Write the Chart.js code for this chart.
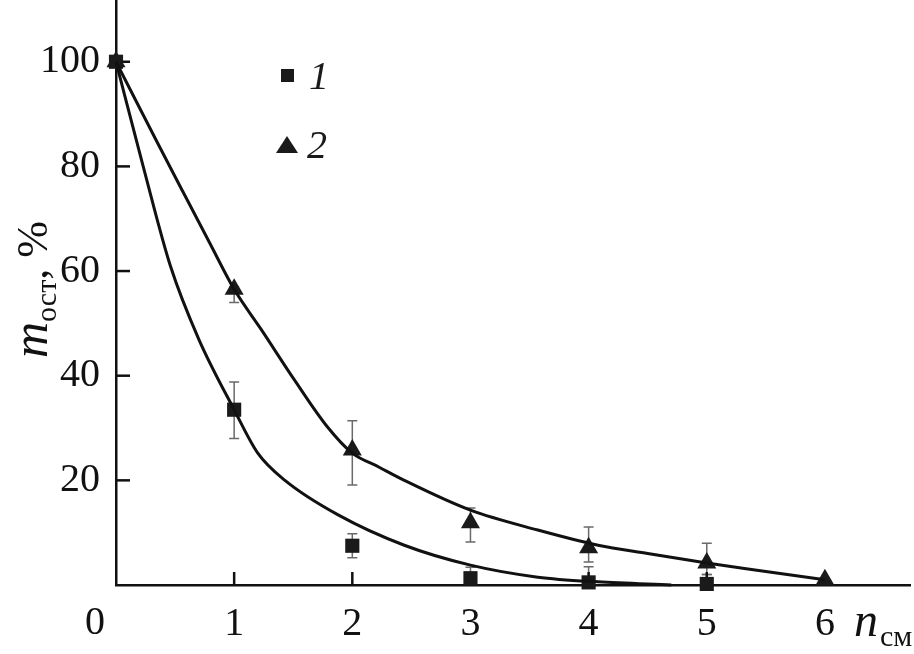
<!DOCTYPE html>
<html>
<head>
<meta charset="utf-8">
<script src="https://cdn.jsdelivr.net/npm/chart.js@4"></script>
<style>
  html, body { margin: 0; padding: 0; background: #fff; }
  #wrap { width: 914px; height: 654px; }
</style>
</head>
<body>
<div id="wrap"><canvas id="chart"></canvas></div>
<script>
// --- data ---
const nValues = [0, 1, 2, 3, 4, 5];
const nValues2 = [0, 1, 2, 3, 4, 5, 6];
const series1 = [100, 33.5, 7.5, 1.3, 0.5, 0.2];
const series2 = [100, 56.5, 25.8, 11.9, 7.1, 4.2, 1.0];
const err1Low = [null, 28, 5.2, 0.5, 0, 0];
const err1High = [null, 38.8, 9.8, 3.4, 3.5, 2.0];
const err2Low = [null, 54, 19.1, 8.2, 4.4, 2.0, null];
const err2High = [null, 57, 31.4, 14.7, 11.1, 8.0, null];

// fitted curves (traced)
const fit1X = [0, 0.23, 0.46, 0.7, 1, 1.2, 1.43, 1.88, 2.44, 3, 3.57, 4.08, 4.7];
const fit1Y = [100, 80, 61, 47, 33.5, 25.2, 20, 13.4, 7.6, 3.8, 1.5, 0.6, 0];
const fit2X = [0, 0.34, 0.57, 0.79, 1, 1.23, 1.51, 1.79, 2, 2.22, 2.44, 3, 3.57, 4.08, 4.5, 5, 5.5, 6];
const fit2Y = [100, 85, 75, 65.5, 56.5, 48.8, 39.2, 30.2, 25.2, 22.6, 20, 14.3, 10.5, 7.6, 6.0, 4.2, 2.6, 1.0];

const seriesNames = ['1', '2'];
const xTicks = [1, 2, 3, 4, 5, 6];
const yTicks = [20, 40, 60, 80, 100];

const SERIF = '"Liberation Serif", "DejaVu Serif", serif';

function pts(xs, ys) {
    return xs.map((x, i) => ({ x: x, y: ys[i] }));
}

// error bars + inside ticks + text decorations
const decor = {
    id: 'decor',
    beforeDatasetsDraw(chart) {
        const ctx = chart.ctx;
        const xs = chart.scales.x, ys = chart.scales.y;
        ctx.save();
        ctx.strokeStyle = '#6a6a6a';
        ctx.lineWidth = 1.5;
        const bars = [[nValues, err1Low, err1High], [nValues2, err2Low, err2High]];
        bars.forEach(([xv, lo, hi]) => {
            xv.forEach((x, i) => {
                if (lo[i] == null) return;
                const px = xs.getPixelForValue(x);
                const y1 = ys.getPixelForValue(lo[i]);
                const y2 = ys.getPixelForValue(hi[i]);
                ctx.beginPath();
                ctx.moveTo(px, y1); ctx.lineTo(px, y2);
                ctx.moveTo(px - 5, y1); ctx.lineTo(px + 5, y1);
                ctx.moveTo(px - 5, y2); ctx.lineTo(px + 5, y2);
                ctx.stroke();
            });
        });
        // inside tick marks
        ctx.strokeStyle = '#111';
        ctx.lineWidth = 2.5;
        const left = chart.chartArea.left, bottom = chart.chartArea.bottom;
        yTicks.forEach(v => {
            const py = ys.getPixelForValue(v);
            ctx.beginPath(); ctx.moveTo(left, py); ctx.lineTo(left + 14, py); ctx.stroke();
        });
        xTicks.forEach(v => {
            const px = xs.getPixelForValue(v);
            ctx.beginPath(); ctx.moveTo(px, bottom); ctx.lineTo(px, bottom - 13); ctx.stroke();
        });
        ctx.restore();
    },
    afterDraw(chart) {
        const ctx = chart.ctx;
        const xs = chart.scales.x;
        ctx.save();
        ctx.fillStyle = '#111';
        ctx.textBaseline = 'alphabetic';

        // origin label
        ctx.font = '40px ' + SERIF;
        ctx.textAlign = 'center';
        ctx.fillText('0', xs.getPixelForValue(0) - 21, 634);

        // x title: n_см
        ctx.textAlign = 'left';
        ctx.font = 'italic 48px ' + SERIF;
        ctx.fillText('n', 854, 636);
        ctx.font = '30px ' + SERIF;
        ctx.fillText('см', 880, 646);

        // y title: m_ост, %
        ctx.translate(47, 358);
        ctx.rotate(-Math.PI / 2);
        ctx.font = 'italic 50px ' + SERIF;
        ctx.fillText('m', 0, 0);
        let w = ctx.measureText('m').width;
        ctx.font = '30px ' + SERIF;
        ctx.fillText('ост', w, 9);
        w += ctx.measureText('ост').width;
        ctx.font = '44px ' + SERIF;
        ctx.fillText(', %', w, 0);
        ctx.restore();

        // legend
        ctx.save();
        ctx.fillStyle = '#1a1a1a';
        ctx.fillRect(281, 69, 13, 13);
        ctx.beginPath();
        ctx.moveTo(287, 136); ctx.lineTo(298, 153); ctx.lineTo(276, 153); ctx.closePath();
        ctx.fill();
        ctx.font = 'italic 40px ' + SERIF;
        ctx.textAlign = 'left';
        ctx.fillText(seriesNames[0], 309, 89);
        ctx.fillText(seriesNames[1], 307, 158);
        ctx.restore();
    }
};

const ctx = document.getElementById('chart').getContext('2d');
new Chart(ctx, {
    type: 'scatter',
    data: {
        datasets: [
            {
                label: 'fit 1',
                data: pts(fit1X, fit1Y),
                showLine: true,
                borderColor: '#111',
                borderWidth: 3,
                pointRadius: 0,
                cubicInterpolationMode: 'monotone',
                clip: false
            },
            {
                label: 'fit 2',
                data: pts(fit2X, fit2Y),
                showLine: true,
                borderColor: '#111',
                borderWidth: 3,
                pointRadius: 0,
                cubicInterpolationMode: 'monotone',
                clip: false
            },
            {
                label: seriesNames[0],
                data: pts(nValues, series1),
                pointStyle: 'rect',
                pointRadius: 10,
                backgroundColor: '#1a1a1a',
                borderColor: '#1a1a1a',
                borderWidth: 0,
                clip: false
            },
            {
                label: seriesNames[1],
                data: pts(nValues2, series2),
                pointStyle: 'triangle',
                pointRadius: 11,
                backgroundColor: '#1a1a1a',
                borderColor: '#1a1a1a',
                borderWidth: 0,
                clip: false
            }
        ]
    },
    options: {
        responsive: true,
        maintainAspectRatio: false,
        animation: false,
        layout: { autoPadding: false, padding: { top: 0, right: 4, left: 0, bottom: 0 } },
        plugins: {
            legend: { display: false },
            tooltip: { enabled: false }
        },
        scales: {
            x: {
                type: 'linear',
                min: 0,
                max: 6.72,
                afterBuildTicks: s => { s.ticks = xTicks.map(v => ({ value: v })); },
                afterFit: s => { s.height = 69; s.paddingLeft = 0; s.paddingRight = 0; },
                grid: { display: false, drawTicks: false },
                border: { display: true, color: '#111', width: 2.5 },
                ticks: {
                    color: '#111',
                    padding: 15,
                    font: { family: SERIF, size: 40 }
                }
            },
            y: {
                min: 0,
                max: 111.8,
                afterBuildTicks: s => { s.ticks = yTicks.map(v => ({ value: v })); },
                afterFit: s => { s.width = 116; s.paddingTop = 0; s.paddingBottom = 0; },
                grid: { display: false, drawTicks: false },
                border: { display: true, color: '#111', width: 2.5 },
                ticks: {
                    color: '#111',
                    padding: 16,
                    font: { family: SERIF, size: 40 }
                }
            }
        }
    },
    plugins: [decor]
});
</script>
</body>
</html>
